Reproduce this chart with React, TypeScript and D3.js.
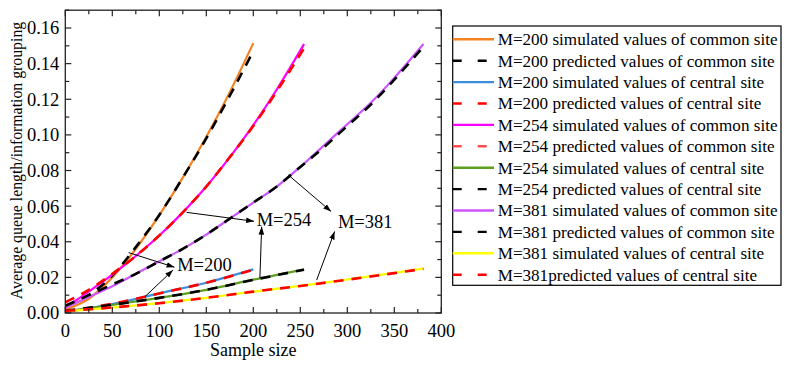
import React from "react";
import * as d3 from "d3";

// ---------- data ----------
const x200 = [0, 25, 50, 75, 100, 125, 150, 175, 200];
const simCommon200 = [0.002, 0.008, 0.02, 0.036, 0.055, 0.076, 0.099, 0.124, 0.1515];
const preCommon200 = [0.004, 0.01, 0.021, 0.037, 0.055, 0.076, 0.098, 0.122, 0.147];

const x254 = [0, 25, 50, 75, 100, 125, 150, 175, 200, 225, 254];
const simCommon254 = [0.003, 0.012, 0.0215, 0.032, 0.0435, 0.0565, 0.071, 0.0875, 0.1055, 0.1255, 0.151];
const preCommon254 = [0.006, 0.013, 0.022, 0.032, 0.0435, 0.0565, 0.071, 0.0875, 0.105, 0.1245, 0.1487];

const x381 = [0, 25, 50, 75, 100, 125, 150, 175, 200, 225, 250, 275, 300, 325, 350, 381];
const simCommon381 = [0.003, 0.009, 0.015, 0.022, 0.029, 0.036, 0.044, 0.053, 0.062, 0.071, 0.082, 0.094, 0.106, 0.118, 0.132, 0.151];
const preCommon381 = [0.004, 0.01, 0.016, 0.022, 0.029, 0.036, 0.044, 0.053, 0.062, 0.071, 0.082, 0.093, 0.105, 0.117, 0.131, 0.1495];

const xc200 = [0, 50, 100, 150, 200];
const simCentral200 = [0.0005, 0.005, 0.011, 0.017, 0.0245];
const preCentral200 = [0.0008, 0.0052, 0.011, 0.017, 0.0243];

const xc254 = [0, 50, 100, 150, 200, 254];
const simCentral254 = [0.001, 0.0045, 0.0085, 0.013, 0.0187, 0.0245];
const preCentral254 = [0.0012, 0.0046, 0.0085, 0.013, 0.0186, 0.0243];

const xc381 = [0, 50, 100, 150, 200, 250, 300, 350, 381];
const simCentral381 = [0.001, 0.003, 0.0055, 0.0085, 0.012, 0.0152, 0.0188, 0.0225, 0.025];
const preCentral381 = [0.0012, 0.0031, 0.0055, 0.0085, 0.012, 0.0152, 0.0187, 0.0224, 0.0248];

const legendLabels = [
  "M=200 simulated values of common site",
  "M=200 predicted values of common site",
  "M=200 simulated values of central site",
  "M=200 predicted values of central site",
  "M=254 simulated values of common site",
  "M=254 predicted values of common site",
  "M=254 simulated values of central site",
  "M=254 predicted values of central site",
  "M=381 simulated values of common site",
  "M=381 predicted values of common site",
  "M=381 simulated values of central site",
  "M=381predicted values of central site",
];

const xTicks = [0, 50, 100, 150, 200, 250, 300, 350, 400];
const yTicks = [0, 0.02, 0.04, 0.06, 0.08, 0.1, 0.12, 0.14, 0.16];

// annotation labels (data coords) and arrows [x1,y1,x2,y2]
const annoLabels = [
  { text: "M=200", x: 119, y: 0.0237 },
  { text: "M=254", x: 203.6, y: 0.049 },
  { text: "M=381", x: 290, y: 0.0475 },
];
const annoArrows = [
  [67.4, 0.0339, 116.2, 0.0257],
  [84.8, 0.0092, 114.6, 0.0241],
  [129.1, 0.0565, 200.8, 0.0515],
  [207, 0.0195, 208.9, 0.0485],
  [237.2, 0.0775, 282.8, 0.057],
  [267.4, 0.0185, 286.5, 0.0458],
];

// ---------- styling ----------
const C = {
  orange: "#F58220",
  black: "#000000",
  blue: "#3C8DDC",
  red: "#FF0000",
  magenta: "#FF00FF",
  lightRed: "#FF4D4D",
  green: "#5E9E1E",
  violet: "#CC55FF",
  yellow: "#FFFF00",
};

type Series = { xs: number[]; ys: number[]; color: string; dashed: boolean };
const series: Series[] = [
  { xs: x200, ys: simCommon200, color: C.orange, dashed: false },
  { xs: x200, ys: preCommon200, color: C.black, dashed: true },
  { xs: xc200, ys: simCentral200, color: C.blue, dashed: false },
  { xs: xc200, ys: preCentral200, color: C.red, dashed: true },
  { xs: x254, ys: simCommon254, color: C.magenta, dashed: false },
  { xs: x254, ys: preCommon254, color: C.red, dashed: true },
  { xs: xc254, ys: simCentral254, color: C.green, dashed: false },
  { xs: xc254, ys: preCentral254, color: C.black, dashed: true },
  { xs: x381, ys: simCommon381, color: C.violet, dashed: false },
  { xs: x381, ys: preCommon381, color: C.black, dashed: true },
  { xs: xc381, ys: simCentral381, color: C.yellow, dashed: false },
  { xs: xc381, ys: preCentral381, color: C.red, dashed: true },
];
const legendColors = [C.orange, C.black, C.blue, C.red, C.magenta, C.lightRed, C.green, C.black, C.violet, C.black, C.yellow, C.red];

const W = 790;
const H = 367;
const L = 65.3, R = 441.3, T = 10.2, B = 313;
const FONT = "'Liberation Serif', 'Times New Roman', serif";

export default function App() {
  const xs = d3.scaleLinear().domain([0, 400]).range([L, R]);
  const ys = d3.scaleLinear().domain([0, 0.17]).range([B, T]);

  const line = (s: Series) =>
    d3
      .line<number>()
      .x((_, i) => xs(s.xs[i]))
      .y((v) => ys(v))
      .curve(d3.curveMonotoneX)(s.ys) || "";

  const xMinor = d3.range(0, 401, 25);
  const yMinor = d3.range(0, 0.1701, 0.01);

  const legX0 = 452.7, legX1 = 781, legY0 = 26, legY1 = 285.3;
  const rowY = (i: number) => 39.3 + i * 21.4;

  return (
    <svg width={W} height={H} style={{ position: "absolute", left: 0, top: 0, background: "#fff" }}>
      <defs>
        <marker id="ah" viewBox="0 0 10 10" refX="10" refY="5" markerWidth="8" markerHeight="8" orient="auto" markerUnits="userSpaceOnUse">
          <path d="M0,1.5 L10,5 L0,8.5 Z" fill="#000" />
        </marker>
        <clipPath id="clip">
          <rect x={L} y={T} width={R - L} height={B - T} />
        </clipPath>
      </defs>
      <rect x={0} y={0} width={W} height={H} fill="#fff" />

      {/* series */}
      <g clipPath="url(#clip)">
        {series.map((s, i) => (
          <path
            key={i}
            d={line(s)}
            fill="none"
            stroke={s.color}
            strokeWidth={s.dashed ? 2.6 : 2.2}
            strokeDasharray={s.dashed ? "10,8" : undefined}
          />
        ))}
      </g>

      {/* annotations */}
      {annoArrows.map((a, i) => (
        <line
          key={i}
          x1={xs(a[0])}
          y1={ys(a[1])}
          x2={xs(a[2])}
          y2={ys(a[3])}
          stroke="#000"
          strokeWidth={1}
          markerEnd="url(#ah)"
        />
      ))}
      {annoLabels.map((a, i) => (
        <text key={i} x={xs(a.x)} y={ys(a.y)} fontFamily={FONT} fontSize={18.5} fill="#000">
          {a.text}
        </text>
      ))}

      {/* frame */}
      <rect x={L} y={T} width={R - L} height={B - T} fill="none" stroke="#222" strokeWidth={1.3} />

      {/* x ticks */}
      {xMinor.map((v, i) => {
        const major = v % 50 === 0;
        const len = major ? 6 : 4;
        return (
          <g key={"xt" + i}>
            <line x1={xs(v)} x2={xs(v)} y1={B} y2={B - len} stroke="#222" strokeWidth={1.2} />
            <line x1={xs(v)} x2={xs(v)} y1={T} y2={T + len} stroke="#222" strokeWidth={1.2} />
          </g>
        );
      })}
      {yMinor.map((v, i) => {
        const major = i % 2 === 0;
        const len = major ? 6 : 4;
        return (
          <g key={"yt" + i}>
            <line x1={L} x2={L + len} y1={ys(v)} y2={ys(v)} stroke="#222" strokeWidth={1.2} />
            <line x1={R} x2={R - len} y1={ys(v)} y2={ys(v)} stroke="#222" strokeWidth={1.2} />
          </g>
        );
      })}
      {xTicks.map((v) => (
        <text key={"xl" + v} x={xs(v)} y={B + 24} textAnchor="middle" fontFamily={FONT} fontSize={18.5} fill="#000">
          {v}
        </text>
      ))}
      {yTicks.map((v) => (
        <text key={"yl" + v} x={L - 6} y={ys(v)} dy="0.35em" textAnchor="end" fontFamily={FONT} fontSize={18.5} fill="#000">
          {v.toFixed(2)}
        </text>
      ))}

      {/* axis titles */}
      <text x={(L + R) / 2} y={355.5} textAnchor="middle" fontFamily={FONT} fontSize={18} fill="#000">
        Sample size
      </text>
      <text
        transform={`translate(22, ${160.5}) rotate(-90)`}
        textAnchor="middle"
        fontFamily={FONT}
        fontSize={15.8}
        fill="#000"
      >
        Average queue length/information grouping
      </text>

      {/* legend */}
      <rect x={legX0} y={legY0} width={legX1 - legX0} height={legY1 - legY0} fill="#fff" stroke="#000" strokeWidth={1.2} />
      {legendLabels.map((lab, i) => {
        const dashed = series[i].dashed;
        return (
          <g key={"lg" + i}>
            <line
              x1={legX0}
              x2={494}
              y1={rowY(i)}
              y2={rowY(i)}
              stroke={legendColors[i]}
              strokeWidth={2.4}
              strokeDasharray={dashed ? "9,16" : undefined}
            />
            <text x={497.7} y={rowY(i)} dy="0.35em" fontFamily={FONT} fontSize={17.1} fill="#000">
              {lab}
            </text>
          </g>
        );
      })}
    </svg>
  );
}
